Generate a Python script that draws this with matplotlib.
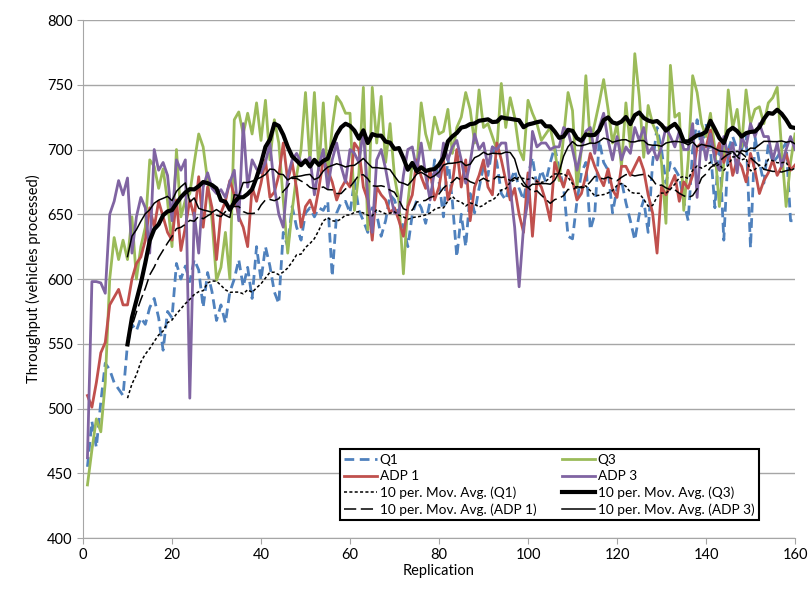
import numpy as np
import pandas as pd
import matplotlib.pyplot as plt

plt.rcParams['font.family'] = ['Lato', 'DejaVu Sans']

# Throughput per replication (vehicles processed)
replication = np.arange(1, 161)

q1 = [455, 490, 470, 505, 535, 530, 520, 515, 510, 550,
      565, 560, 570, 565, 578, 585, 570, 545, 575, 570,
      612, 600, 610, 598, 615, 607, 578, 605, 590, 568,
      580, 566, 590, 600, 615, 594, 609, 585, 625, 599,
      625, 610, 590, 581, 636, 625, 656, 640, 630, 651,
      655, 648, 655, 653, 660, 602, 651, 659, 660, 651,
      676, 653, 645, 636, 655, 650, 633, 645, 665, 661,
      650, 640, 625, 650, 661, 655, 643, 660, 692, 675,
      648, 694, 660, 617, 650, 625, 666, 651, 670, 687,
      680, 702, 690, 666, 661, 675, 684, 670, 661, 680,
      694, 671, 684, 675, 690, 702, 685, 671, 633, 631,
      660, 682, 690, 638, 650, 707, 690, 684, 651, 670,
      676, 659, 645, 630, 650, 661, 636, 690, 717, 700,
      674, 690, 685, 679, 660, 645, 700, 723, 700, 720,
      700, 655, 705, 630, 700, 710, 700, 700, 712, 624,
      710, 690, 674, 704, 690, 694, 700, 705, 645, 645]

q3 = [441, 468, 492, 482, 520, 600, 632, 615, 630, 615,
      648, 600, 625, 640, 692, 687, 670, 685, 660, 625,
      700, 648, 661, 666, 690, 712, 702, 676, 645, 599,
      609, 636, 600, 723, 729, 712, 728, 712, 736, 707,
      738, 692, 723, 705, 661, 620, 653, 680, 700, 744,
      690, 744, 684, 736, 679, 717, 741, 736, 728, 728,
      653, 682, 748, 638, 748, 705, 741, 690, 720, 679,
      660, 604, 659, 690, 684, 736, 712, 700, 725, 712,
      714, 731, 697, 717, 725, 744, 731, 705, 746, 717,
      720, 710, 700, 751, 717, 740, 725, 700, 692, 738,
      728, 720, 707, 712, 717, 700, 676, 710, 744, 730,
      671, 700, 757, 705, 720, 736, 754, 731, 705, 720,
      687, 736, 702, 774, 741, 694, 734, 720, 712, 690,
      643, 765, 725, 728, 653, 692, 757, 744, 720, 710,
      728, 700, 656, 690, 746, 717, 731, 702, 746, 720,
      731, 733, 720, 736, 740, 748, 700, 656, 690, 712]

adp1 = [510, 501, 520, 543, 551, 580, 586, 592, 580, 580,
        600, 612, 617, 630, 655, 640, 660, 648, 636, 630,
        661, 622, 640, 661, 648, 679, 640, 671, 655, 615,
        651, 660, 676, 665, 648, 640, 625, 671, 660, 674,
        692, 663, 667, 680, 705, 676, 690, 670, 640, 656,
        661, 651, 670, 692, 684, 675, 661, 670, 676, 671,
        705, 700, 671, 661, 630, 671, 665, 661, 651, 655,
        645, 633, 656, 665, 692, 679, 670, 684, 661, 671,
        692, 661, 674, 700, 671, 692, 645, 671, 680, 692,
        671, 665, 705, 692, 676, 661, 670, 650, 636, 682,
        633, 676, 671, 660, 645, 690, 680, 671, 684, 676,
        661, 666, 680, 697, 687, 679, 672, 685, 669, 663,
        687, 687, 680, 687, 694, 684, 665, 651, 620, 671,
        665, 672, 680, 660, 675, 670, 680, 702, 705, 702,
        715, 695, 705, 690, 700, 680, 692, 687, 675, 697,
        684, 666, 676, 682, 692, 680, 687, 697, 684, 688]

adp3 = [462, 598, 598, 597, 589, 650, 660, 676, 665, 678,
        620, 648, 663, 655, 620, 700, 684, 690, 680, 645,
        692, 684, 692, 508, 651, 620, 671, 682, 670, 666,
        669, 663, 675, 684, 645, 720, 671, 692, 685, 682,
        690, 705, 671, 650, 640, 679, 692, 697, 690, 690,
        694, 665, 687, 700, 670, 692, 705, 687, 675, 700,
        697, 690, 715, 663, 636, 692, 700, 685, 666, 651,
        651, 680, 700, 702, 684, 705, 680, 661, 684, 679,
        705, 692, 702, 707, 692, 674, 690, 712, 700, 705,
        687, 702, 700, 705, 705, 671, 640, 594, 640, 661,
        714, 702, 705, 705, 700, 702, 702, 717, 714, 700,
        684, 700, 714, 717, 697, 717, 728, 707, 692, 710,
        692, 702, 697, 717, 707, 717, 697, 702, 692, 702,
        717, 710, 702, 714, 700, 700, 720, 663, 712, 692,
        712, 692, 684, 710, 694, 705, 682, 710, 702, 720,
        710, 720, 710, 710, 692, 705, 687, 700, 710, 700]

# 10-period moving averages
ma_q1 = pd.Series(q1).rolling(10).mean()
ma_q3 = pd.Series(q3).rolling(10).mean()
ma_adp1 = pd.Series(adp1).rolling(10).mean()
ma_adp3 = pd.Series(adp3).rolling(10).mean()

fig = plt.figure(figsize=(8.09, 5.90), dpi=100)
ax = fig.add_axes([0.1026, 0.0881, 0.8801, 0.878])

l_q1, = ax.plot(replication, q1, color="#4F81BD", lw=2, dashes=(3.5, 2), label="Q1")
l_q3, = ax.plot(replication, q3, color="#9BBB59", lw=2, label="Q3")
l_a1, = ax.plot(replication, adp1, color="#C0504D", lw=2, label="ADP 1")
l_a3, = ax.plot(replication, adp3, color="#8064A2", lw=2, label="ADP 3")

m_q1, = ax.plot(replication, ma_q1, color="black", lw=1.1, dashes=(2, 1.5),
                label="10 per. Mov. Avg. (Q1)")
m_q3, = ax.plot(replication, ma_q3, color="black", lw=3,
                label="10 per. Mov. Avg. (Q3)")
m_a1, = ax.plot(replication, ma_adp1, color="black", lw=1.1, dashes=(8, 3),
                label="10 per. Mov. Avg. (ADP 1)")
m_a3, = ax.plot(replication, ma_adp3, color="black", lw=1.1,
                label="10 per. Mov. Avg. (ADP 3)")

ax.set_xlim(0, 160)
ax.set_ylim(400, 800)
ax.set_xticks(np.arange(0, 161, 20))
ax.set_yticks(np.arange(400, 801, 50))
ax.grid(axis="y", color="#a6a6a6", lw=1)
ax.set_axisbelow(True)

for side in ["top", "right"]:
    ax.spines[side].set_visible(False)
for side in ["left", "bottom"]:
    ax.spines[side].set_color("#a6a6a6")
ax.tick_params(axis="both", colors="#a6a6a6", labelcolor="black", labelsize=10.5, length=4)

ax.set_xlabel("Replication", fontsize=10.5, labelpad=1)
ax.set_ylabel("Throughput (vehicles processed)", fontsize=10.5)

handles = [l_q1, l_a1, m_q1, m_a1, l_q3, l_a3, m_q3, m_a3]
leg = ax.legend(handles=handles, ncol=2, loc="lower left",
                bbox_to_anchor=(0.351, 0.021, 0.608, 0.193), mode="expand",
                fontsize=9.8, frameon=True, fancybox=False, handlelength=2.4,
                handletextpad=0.2, borderpad=0.35, labelspacing=0.3,
                columnspacing=0.8)
leg.get_frame().set_edgecolor("black")
leg.get_frame().set_linewidth(1.5)
leg.get_frame().set_alpha(1)

fig.savefig("out.png", dpi=100)
